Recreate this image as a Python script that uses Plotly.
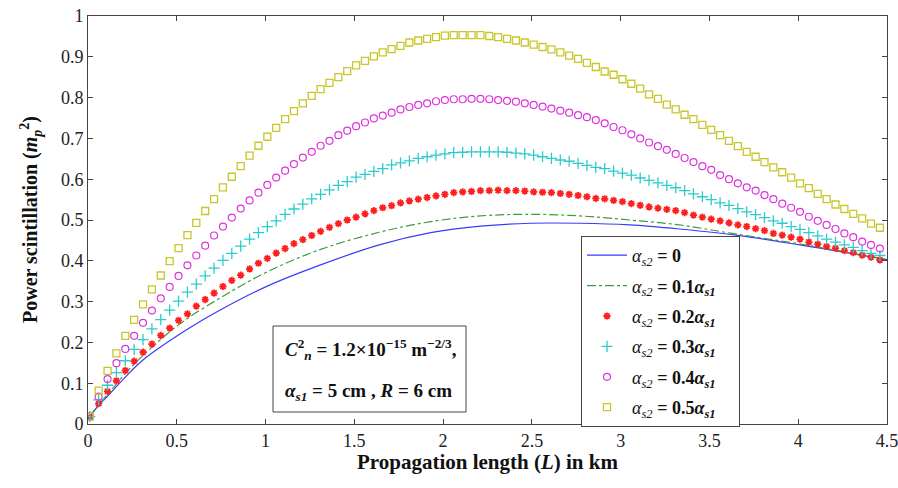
import plotly.graph_objects as go

# marker positions along propagation length (km)
x_pts = [round(0.01 + 0.05 * k, 2) for k in range(90)]

y_05 = [0.018, 0.082, 0.130, 0.173, 0.216, 0.255, 0.293, 0.330, 0.364, 0.399,
        0.431, 0.463, 0.493, 0.522, 0.551, 0.580, 0.606, 0.632, 0.658, 0.682,
        0.704, 0.726, 0.747, 0.767, 0.786, 0.804, 0.821, 0.836, 0.850, 0.865,
        0.879, 0.890, 0.901, 0.911, 0.919, 0.927, 0.935, 0.940, 0.944, 0.948,
        0.952, 0.953, 0.953, 0.953, 0.953, 0.951, 0.948, 0.944, 0.940, 0.935,
        0.930, 0.924, 0.918, 0.911, 0.903, 0.895, 0.885, 0.875, 0.864, 0.856,
        0.845, 0.834, 0.822, 0.808, 0.797, 0.783, 0.771, 0.758, 0.747, 0.733,
        0.721, 0.708, 0.694, 0.681, 0.667, 0.655, 0.642, 0.629, 0.617, 0.604,
        0.590, 0.578, 0.564, 0.551, 0.538, 0.527, 0.515, 0.504, 0.491, 0.481]

y_04 = [0.019, 0.067, 0.110, 0.149, 0.184, 0.216, 0.248, 0.278, 0.308, 0.336,
        0.363, 0.389, 0.413, 0.437, 0.462, 0.484, 0.506, 0.528, 0.548, 0.567,
        0.586, 0.604, 0.621, 0.637, 0.653, 0.667, 0.682, 0.694, 0.708, 0.719,
        0.730, 0.739, 0.749, 0.756, 0.763, 0.771, 0.777, 0.782, 0.786, 0.791,
        0.794, 0.796, 0.796, 0.797, 0.797, 0.796, 0.794, 0.792, 0.790, 0.786,
        0.782, 0.778, 0.773, 0.768, 0.763, 0.757, 0.752, 0.745, 0.737, 0.728,
        0.720, 0.710, 0.700, 0.690, 0.681, 0.672, 0.662, 0.652, 0.642, 0.632,
        0.623, 0.610, 0.600, 0.590, 0.580, 0.572, 0.561, 0.551, 0.540, 0.530,
        0.520, 0.508, 0.498, 0.488, 0.478, 0.467, 0.458, 0.447, 0.439, 0.430]

y_03 = [0.018, 0.059, 0.095, 0.126, 0.155, 0.183, 0.207, 0.233, 0.256, 0.279,
        0.301, 0.323, 0.343, 0.363, 0.382, 0.401, 0.418, 0.436, 0.453, 0.469,
        0.484, 0.498, 0.514, 0.527, 0.539, 0.552, 0.563, 0.574, 0.585, 0.594,
        0.605, 0.612, 0.619, 0.626, 0.635, 0.640, 0.645, 0.651, 0.655, 0.659,
        0.662, 0.665, 0.666, 0.667, 0.667, 0.667, 0.667, 0.666, 0.664, 0.662,
        0.659, 0.655, 0.651, 0.647, 0.644, 0.639, 0.634, 0.629, 0.626, 0.620,
        0.615, 0.610, 0.603, 0.597, 0.591, 0.585, 0.579, 0.572, 0.564, 0.557,
        0.550, 0.542, 0.536, 0.528, 0.520, 0.513, 0.506, 0.498, 0.492, 0.484,
        0.477, 0.469, 0.461, 0.453, 0.446, 0.439, 0.433, 0.425, 0.418, 0.413]

y_02 = [0.016, 0.050, 0.080, 0.106, 0.131, 0.154, 0.176, 0.196, 0.217, 0.235,
        0.254, 0.270, 0.289, 0.305, 0.321, 0.337, 0.352, 0.365, 0.380, 0.394,
        0.406, 0.419, 0.430, 0.442, 0.452, 0.462, 0.472, 0.482, 0.491, 0.500,
        0.507, 0.515, 0.523, 0.530, 0.535, 0.542, 0.547, 0.551, 0.555, 0.559,
        0.563, 0.567, 0.569, 0.570, 0.572, 0.572, 0.573, 0.572, 0.572, 0.571,
        0.569, 0.568, 0.567, 0.565, 0.563, 0.560, 0.557, 0.553, 0.552, 0.548,
        0.545, 0.540, 0.536, 0.532, 0.529, 0.526, 0.523, 0.518, 0.512, 0.507,
        0.502, 0.498, 0.493, 0.488, 0.484, 0.479, 0.474, 0.467, 0.463, 0.458,
        0.453, 0.446, 0.441, 0.435, 0.431, 0.425, 0.420, 0.414, 0.409, 0.402]

# continuous curves (read at selected lengths)
x_line0 = [0.01, 0.06, 0.11, 0.21, 0.31, 0.56, 0.76, 1.01, 1.31, 1.64, 1.93,
           2.21, 2.49, 2.77, 3.05, 3.33, 3.65, 4.01, 4.5]
y_00 = [0.018, 0.046, 0.068, 0.115, 0.157, 0.232, 0.283, 0.338, 0.390, 0.439,
        0.469, 0.485, 0.492, 0.492, 0.488, 0.478, 0.463, 0.439, 0.403]

x_line1 = [0.01, 0.06, 0.11, 0.21, 0.31, 0.51, 0.76, 1.01, 1.31, 1.64, 1.93,
           2.21, 2.49, 2.77, 3.05, 3.33, 3.63, 4.01, 4.5]
y_01 = [0.018, 0.048, 0.072, 0.124, 0.168, 0.243, 0.313, 0.373, 0.428, 0.470,
        0.496, 0.510, 0.514, 0.510, 0.500, 0.488, 0.467, 0.441, 0.403]

x_ticks = [0, 0.5, 1, 1.5, 2, 2.5, 3, 3.5, 4, 4.5]
x_ticktext = ["0", "0.5", "1", "1.5", "2", "2.5", "3", "3.5", "4", "4.5"]
y_ticks = [0, 0.1, 0.2, 0.3, 0.4, 0.5, 0.6, 0.7, 0.8, 0.9, 1]
y_ticktext = ["0", "0.1", "0.2", "0.3", "0.4", "0.5", "0.6", "0.7", "0.8", "0.9", "1"]

PAD = "\u00a0\u00a0\u00a0\u00a0"
legend_names = [
    "<i>α</i><sub><i>s2</i></sub><b> = 0</b>" + PAD,
    "<i>α</i><sub><i>s2</i></sub><b> = 0.1<i>α</i><sub><i>s1</i></sub></b>" + PAD,
    "<i>α</i><sub><i>s2</i></sub><b> = 0.2<i>α</i><sub><i>s1</i></sub></b>" + PAD,
    "<i>α</i><sub><i>s2</i></sub><b> = 0.3<i>α</i><sub><i>s1</i></sub></b>" + PAD,
    "<i>α</i><sub><i>s2</i></sub><b> = 0.4<i>α</i><sub><i>s1</i></sub></b>" + PAD,
    "<i>α</i><sub><i>s2</i></sub><b> = 0.5<i>α</i><sub><i>s1</i></sub></b>" + PAD,
]

FONT = "Liberation Serif, Times New Roman, serif"

fig = go.Figure()
fig.add_trace(go.Scatter(x=x_line0, y=y_00, mode="lines", name=legend_names[0],
                         line=dict(color="#3a3aff", width=1.2, shape="spline"),
                         legendgroup="a"))
fig.add_trace(go.Scatter(x=x_line1, y=y_01, mode="lines", name=legend_names[1],
                         line=dict(color="#3f9a3f", width=1.2, dash="dashdot", shape="spline"),
                         legendgroup="b"))
fig.add_trace(go.Scatter(x=x_pts, y=y_02, mode="markers", name=legend_names[2],
                         marker=dict(symbol="asterisk-open", size=6, color="#ff1f1f",
                                     line=dict(color="#ff1f1f", width=1.8)),
                         legendgroup="c"))
fig.add_trace(go.Scatter(x=x_pts, y=y_03, mode="markers", name=legend_names[3],
                         marker=dict(symbol="cross-thin-open", size=8, color="#2ccccc",
                                     line=dict(color="#2ccccc", width=1.3)),
                         legendgroup="d"))
fig.add_trace(go.Scatter(x=x_pts, y=y_04, mode="markers", name=legend_names[4],
                         marker=dict(symbol="circle-open", size=7, color="#dd33dd",
                                     line=dict(color="#dd33dd", width=1.2)),
                         legendgroup="e"))
fig.add_trace(go.Scatter(x=x_pts, y=y_05, mode="markers", name=legend_names[5],
                         marker=dict(symbol="square-open", size=7, color="#c9c62a",
                                     line=dict(color="#c9c62a", width=1.3)),
                         legendgroup="f"))

axis_common = dict(showline=True, linecolor="#444", linewidth=1, mirror="ticks",
                   ticks="inside", ticklen=5, tickcolor="#444", showgrid=False,
                   zeroline=False, automargin=False, ticklabeloverflow="allow",
                   tickfont=dict(family=FONT, size=18, color="#222"))

fig.update_xaxes(range=[0, 4.5], tickvals=x_ticks, ticktext=x_ticktext, **axis_common)
fig.update_yaxes(range=[0, 1], tickvals=y_ticks, ticktext=y_ticktext, **axis_common)

# pixel -> paper helpers (plot area spans x 88..887, y 16..424)
def px_x(p):
    return (p - 88) / 799

def px_y(p):
    return (424 - p) / 408

# axis titles
fig.add_annotation(x=0.5, y=px_y(462), xref="paper", yref="paper",
                   xanchor="center", yanchor="middle", showarrow=False,
                   text="<b>Propagation length (<i>L</i>) in km</b>",
                   font=dict(family=FONT, size=21, color="#111"))
fig.add_annotation(x=px_x(31), y=0.5, xref="paper", yref="paper",
                   xanchor="center", yanchor="middle", showarrow=False, textangle=-90,
                   text="<b>Power scintillation (<i>m</i><sub><i>p</i></sub><sup>2</sup>)</b>",
                   font=dict(family=FONT, size=20, color="#111"))

# parameter box
fig.add_shape(type="rect", xref="paper", yref="paper",
              x0=px_x(273), x1=px_x(466), y0=px_y(412), y1=px_y(326),
              line=dict(color="#444", width=1), fillcolor="white", layer="above")
fig.add_annotation(
    x=px_x(283), y=px_y(349), xref="paper", yref="paper",
    xanchor="left", yanchor="middle", showarrow=False,
    text="<b><i>C</i><sup>2</sup><sub><i>n</i></sub> = 1.2×10<sup>−15</sup> m<sup>−2/3</sup>,</b>",
    font=dict(family=FONT, size=19, color="#111"))
fig.add_annotation(
    x=px_x(283), y=px_y(392), xref="paper", yref="paper",
    xanchor="left", yanchor="middle", showarrow=False,
    text="<b><i>α</i><sub><i>s1</i></sub> = 5 cm , <i>R</i> = 6 cm</b>",
    font=dict(family=FONT, size=19, color="#111"))

fig.update_layout(
    width=898, height=488,
    margin=dict(l=88, r=11, t=16, b=64),
    paper_bgcolor="white", plot_bgcolor="white",
    showlegend=True,
    legend=dict(x=px_x(581), y=px_y(236), xanchor="left", yanchor="top",
                bgcolor="white", bordercolor="#444", borderwidth=1,
                font=dict(family=FONT, size=18, color="#111"),
                tracegroupgap=4, itemwidth=40),
)

# remove the browser's default 8px body margin so the figure fills the window
fig.write_html("out.html",
               config={"displayModeBar": False},
               post_script="document.body.style.margin='0';document.body.style.overflow='hidden';")
